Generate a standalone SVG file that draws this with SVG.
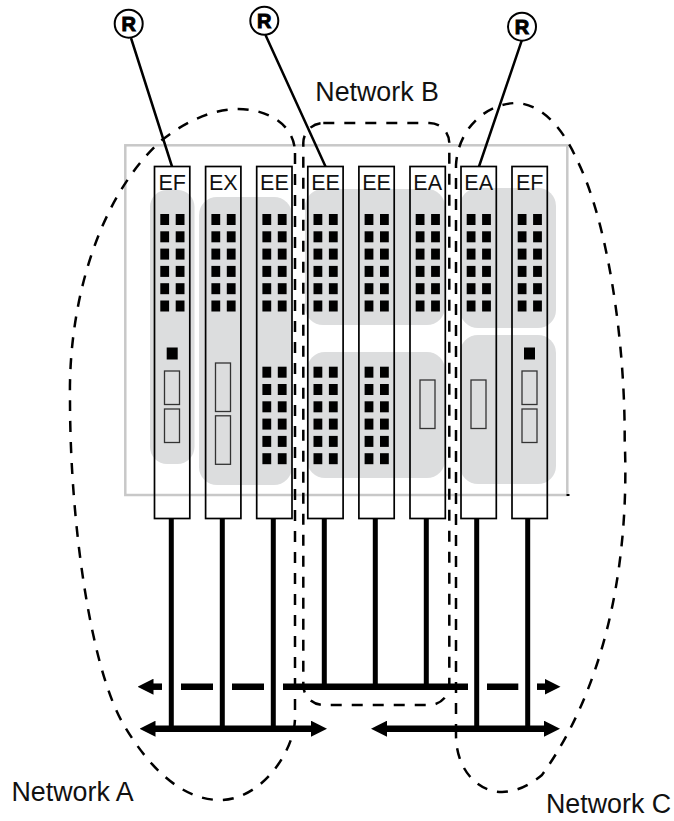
<svg xmlns="http://www.w3.org/2000/svg" xmlns:xlink="http://www.w3.org/1999/xlink" width="674" height="821" viewBox="0 0 674 821">
<style>
.t{font-family:"Liberation Sans",Arial,sans-serif;fill:#111}
.net{font-size:26.8px}
.lab{font-size:21.5px;text-anchor:middle}
.r{font-size:20px;font-weight:bold;text-anchor:middle;stroke:#000;stroke-width:1;fill:#000}
.blob{fill:#dcddde}
.card{fill:none;stroke:#000;stroke-width:1.7}
.port{fill:none;stroke:#333;stroke-width:1.3}
.circ{fill:#fff;stroke:#000;stroke-width:2}
.rl{stroke:#000;stroke-width:2.5;fill:none}
.dash{fill:none;stroke:#000;stroke-width:2.5;stroke-dasharray:11 10}
.drop{stroke:#000;stroke-width:5;fill:none}
.bus{stroke:#000;stroke-width:6.5;fill:none}
</style>
<defs>
<marker id="head" markerUnits="userSpaceOnUse" markerWidth="16" markerHeight="16" viewBox="0 0 16 16" refX="0.5" refY="8" orient="auto-start-reverse"><path d="M0 0L16 8L0 16Z" fill="#000"/></marker>
<g id="pair"><rect x="0" y="0" width="8.8" height="11"/><rect x="15.4" y="0" width="8.8" height="11"/></g>
<g id="grid"><use xlink:href="#pair" href="#pair"/><use xlink:href="#pair" href="#pair" y="17.3"/><use xlink:href="#pair" href="#pair" y="34.6"/><use xlink:href="#pair" href="#pair" y="51.9"/><use xlink:href="#pair" href="#pair" y="69.2"/><use xlink:href="#pair" href="#pair" y="86.5"/></g>
</defs>
<rect id="chassis" x="125.3" y="145.3" width="442" height="349.7" fill="none" stroke="#c8c8c8" stroke-width="2.5"/>
<rect x="566.5" y="494" width="3" height="2" fill="#000"/>
<g id="zones">
<rect class="blob" x="150" y="190" width="44.5" height="274" rx="17"/>
<rect class="blob" x="199" y="197" width="93" height="288" rx="18"/>
<rect class="blob" x="305" y="189" width="140" height="136" rx="18"/>
<rect class="blob" x="307" y="352" width="138" height="126" rx="18"/>
<rect class="blob" x="460" y="188" width="96" height="140" rx="18"/>
<rect class="blob" x="460" y="335" width="96" height="149" rx="18"/>
</g>
<g id="card-1"><rect class="card" x="154.5" y="166.5" width="35.3" height="352"/><text class="t lab" x="172.2" y="190">EF</text><use xlink:href="#grid" href="#grid" x="160.3" y="214"/><rect x="166.7" y="347.5" width="11" height="12" fill="#000"/><rect class="port" x="164.5" y="371" width="15" height="33.5"/><rect class="port" x="164.5" y="409" width="15" height="33.5"/></g>
<g id="card-2"><rect class="card" x="205.6" y="166.5" width="35.3" height="352"/><text class="t lab" x="223.3" y="190">EX</text><use xlink:href="#grid" href="#grid" x="211.4" y="214"/><rect class="port" x="215.5" y="363" width="15" height="48.5"/><rect class="port" x="215.5" y="415.8" width="15" height="48.5"/></g>
<g id="card-3"><rect class="card" x="256.7" y="166.5" width="35.3" height="352"/><text class="t lab" x="274.4" y="190">EE</text><use xlink:href="#grid" href="#grid" x="262.4" y="214"/><use xlink:href="#grid" href="#grid" x="262.4" y="366.7"/></g>
<g id="card-4"><rect class="card" x="307.8" y="166.5" width="35.3" height="352"/><text class="t lab" x="325.5" y="190">EE</text><use xlink:href="#grid" href="#grid" x="313.5" y="214"/><use xlink:href="#grid" href="#grid" x="313.5" y="366.7"/></g>
<g id="card-5"><rect class="card" x="358.9" y="166.5" width="35.3" height="352"/><text class="t lab" x="376.6" y="190">EE</text><use xlink:href="#grid" href="#grid" x="364.6" y="214"/><use xlink:href="#grid" href="#grid" x="364.6" y="366.7"/></g>
<g id="card-6"><rect class="card" x="410" y="166.5" width="35.3" height="352"/><text class="t lab" x="427.7" y="190">EA</text><use xlink:href="#grid" href="#grid" x="415.7" y="214"/><rect class="port" x="420" y="380" width="15" height="48.5"/></g>
<g id="card-7"><rect class="card" x="461" y="166.5" width="35.3" height="352"/><text class="t lab" x="478.7" y="190">EA</text><use xlink:href="#grid" href="#grid" x="466.7" y="214"/><rect class="port" x="471" y="380" width="15" height="48.5"/></g>
<g id="card-8"><rect class="card" x="512" y="166.5" width="35.3" height="352"/><text class="t lab" x="529.7" y="190">EF</text><use xlink:href="#grid" href="#grid" x="517.7" y="214"/><rect x="524" y="347.5" width="11" height="12" fill="#000"/><rect class="port" x="522" y="371" width="15" height="33.5"/><rect class="port" x="522" y="409" width="15" height="33.5"/></g>
<g id="connectors">
<path class="rl" d="M131 38L172 166.5M265.5 35L325.5 166.5M521.7 40.7L479 166.5"/>
<path class="drop" d="M171.3 518.7V729M222.3 518.7V729M273.3 518.7V729M324.3 518.7V687M375.3 518.7V687M426.3 518.7V687M476.7 518.7V729M527.7 518.7V729"/>
<line class="bus" x1="162" y1="686.7" x2="153" y2="686.7" marker-end="url(#head)"/>
<path class="bus" d="M181 686.7H213M232 686.7H264M283 686.7H468M487 686.7H518.3"/>
<line class="bus" x1="537" y1="686.7" x2="545" y2="686.7" marker-end="url(#head)"/>
<line class="bus" x1="155" y1="728.7" x2="311.5" y2="728.7" marker-start="url(#head)" marker-end="url(#head)"/>
<line class="bus" x1="386.5" y1="728.7" x2="544.5" y2="728.7" marker-start="url(#head)" marker-end="url(#head)"/>
</g>
<g id="network-a"><path class="dash" d="M295 153V718C295 750 262 800 220 800C180 800 148 765 125 727C90 670 70 520 70 400C68 300 100 195 162 140C185 122 212 109 238 109C268 109 295 125 295 153Z"/><text class="t net" x="11.5" y="801">Network A</text></g>
<g id="network-b"><rect class="dash" x="303.3" y="123" width="146" height="582" rx="20"/><text class="t net" x="315.3" y="100.7">Network B</text></g>
<g id="network-c"><path class="dash" d="M456 735V165C458 128 487 103 517 103C545 105 565 133 577 160C605 215 625 330 624.7 440C630 570 603 690 542 775C530 785 516 792 502 792C478 792 456 770 456 735Z"/><text class="t net" x="546" y="813">Network C</text></g>
<g id="router-1"><circle class="circ" cx="128.7" cy="23.7" r="14"/><text class="t r" x="128.7" y="31">R</text></g>
<g id="router-2"><circle class="circ" cx="264.3" cy="20.8" r="14"/><text class="t r" x="264.3" y="28.1">R</text></g>
<g id="router-3"><circle class="circ" cx="522" cy="26.7" r="14"/><text class="t r" x="522" y="34">R</text></g>
</svg>
